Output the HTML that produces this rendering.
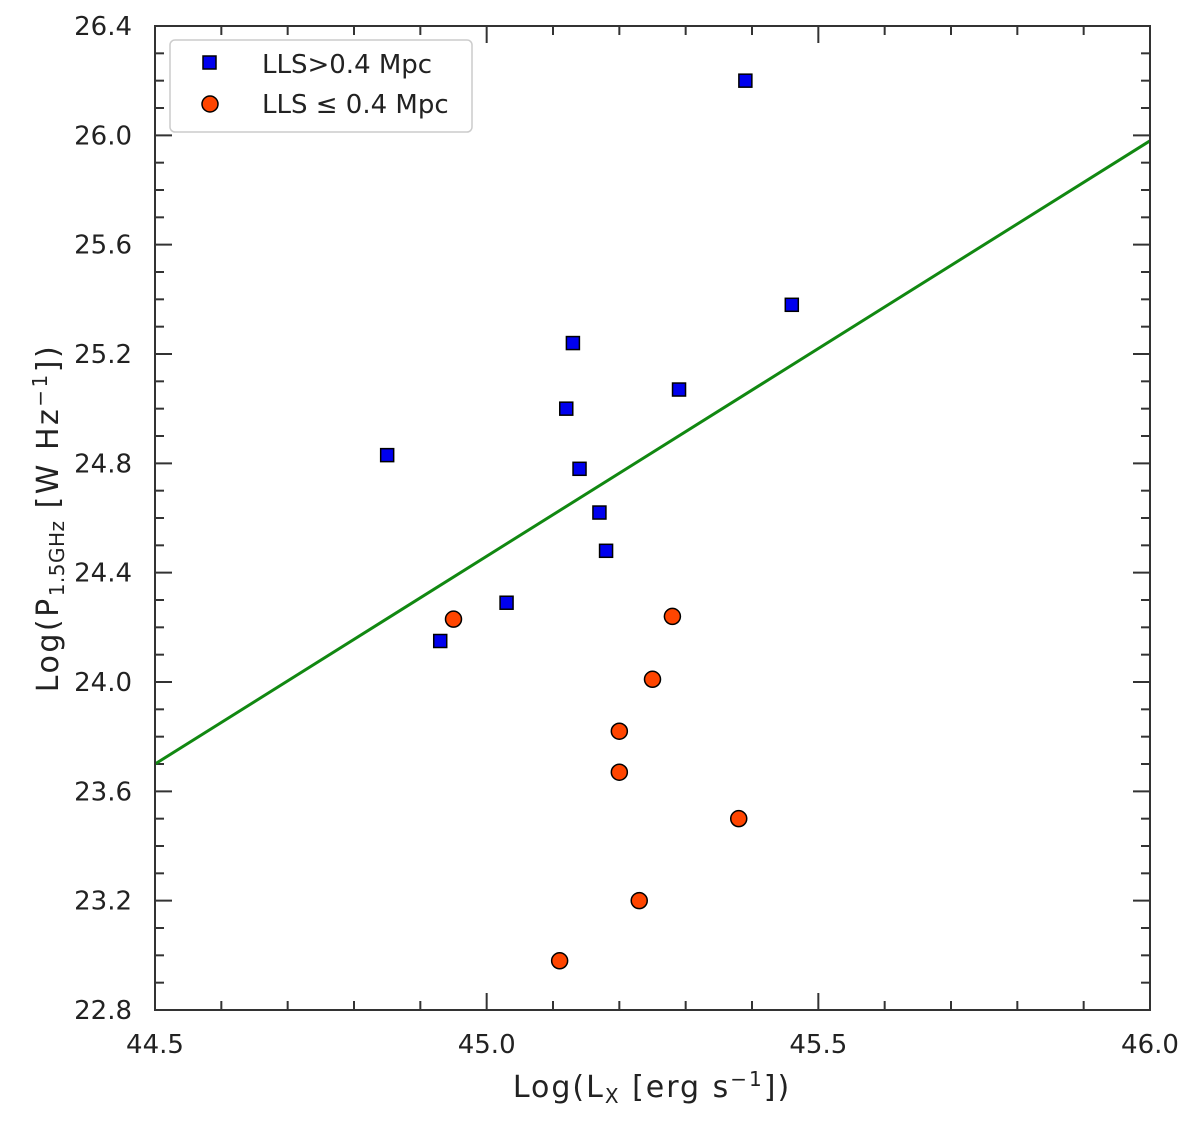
<!DOCTYPE html>
<html><head><meta charset="utf-8"><style>
body{margin:0;background:#fff;}
svg text{font-family:"DejaVu Sans","Liberation Sans",sans-serif;fill:#222;}
</style></head><body>
<svg id="chart" width="1200" height="1126">
<g id="ticks"></g>
<g id="marks"></g>
<rect x="155" y="26" width="995" height="984" fill="none" stroke="#333" stroke-width="2"/>
<text x="652" y="1097" font-size="30" letter-spacing="2" text-anchor="middle">Log(L<tspan font-size="20" dy="6">X</tspan><tspan dy="-6"> [erg s</tspan><tspan font-size="20" dy="-11">−1</tspan><tspan dy="11">])</tspan></text>
<text transform="translate(58,518) rotate(-90)" font-size="30" letter-spacing="2.5" text-anchor="middle">Log(P<tspan font-size="20" dy="6" letter-spacing="0.5">1.5GHz</tspan><tspan dy="-6">  [W Hz</tspan><tspan font-size="20" dy="-11">−1</tspan><tspan dy="11">])</tspan></text>
<g>
<rect x="170" y="40" width="302" height="92" rx="5" fill="#fff" stroke="#ccc" stroke-width="1.5"/>
<rect x="203" y="56" width="13" height="13" fill="#0000ee" stroke="#000" stroke-width="1.5"/>
<text x="262" y="73" font-size="26">LLS&gt;0.4 Mpc</text>
<circle cx="210" cy="104" r="8" fill="#ff4500" stroke="#000" stroke-width="1.5"/>
<text x="262" y="113" font-size="26">LLS ≤ 0.4 Mpc</text>
</g>
</svg>
<script>
const blueX=[44.85,44.93,45.03,45.12,45.13,45.14,45.17,45.18,45.29,45.39,45.46];
const blueY=[24.83,24.15,24.29,25.00,25.24,24.78,24.62,24.48,25.07,26.20,25.38];
const redX=[44.95,45.28,45.25,45.20,45.20,45.38,45.23,45.11];
const redY=[24.23,24.24,24.01,23.82,23.67,23.50,23.20,22.98];
const fitX=[44.5,46.0];
const fitY=[23.70,25.98];
const xTicks=["44.5","45.0","45.5","46.0"];
const yTicks=["22.8","23.2","23.6","24.0","24.4","24.8","25.2","25.6","26.0","26.4"];
const L=155,R=1150,T=26,B=1010;
const sx=v=>L+(v-44.5)/(46.0-44.5)*(R-L);
const sy=v=>B-(v-22.8)/(26.4-22.8)*(B-T);
const NS="http://www.w3.org/2000/svg";
function mk(tag,attrs,parent){const e=document.createElementNS(NS,tag);for(const k in attrs)e.setAttribute(k,attrs[k]);parent.appendChild(e);return e;}
const tg=document.getElementById('ticks'),mg=document.getElementById('marks');
for(let i=0;i<=15;i++){const v=44.5+i*0.1,x=sx(v),len=i%5==0?17:9;
 mk('line',{x1:x,x2:x,y1:B,y2:B-len,stroke:'#333','stroke-width':2},tg);
 mk('line',{x1:x,x2:x,y1:T,y2:T+len,stroke:'#333','stroke-width':2},tg);}
for(let i=0;i<=36;i++){const v=22.8+i*0.1,y=sy(v),len=i%4==0?17:9;
 mk('line',{x1:L,x2:L+len,y1:y,y2:y,stroke:'#333','stroke-width':2},tg);
 mk('line',{x1:R,x2:R-len,y1:y,y2:y,stroke:'#333','stroke-width':2},tg);}
xTicks.forEach(t=>{const e=mk('text',{x:sx(+t),y:1053,'font-size':26,'text-anchor':'middle'},tg);e.textContent=t;

});
yTicks.forEach(t=>{const e=mk('text',{x:132,y:sy(+t)+9,'font-size':26,'text-anchor':'end'},tg);e.textContent=t;

});
const fl=mk('line',{x1:sx(fitX[0]),y1:sy(fitY[0]),x2:sx(fitX[1]),y2:sy(fitY[1]),stroke:'#118811','stroke-width':3},mg);


blueX.forEach((x,i)=>{const e=mk('rect',{x:sx(x)-6.5,y:sy(blueY[i])-6.5,width:13,height:13,fill:'#0000ee',stroke:'#000','stroke-width':1.5},mg);

});
redX.forEach((x,i)=>{const e=mk('circle',{cx:sx(x),cy:sy(redY[i]),r:8,fill:'#ff4500',stroke:'#000','stroke-width':1.5},mg);

});
</script>
</body></html>
